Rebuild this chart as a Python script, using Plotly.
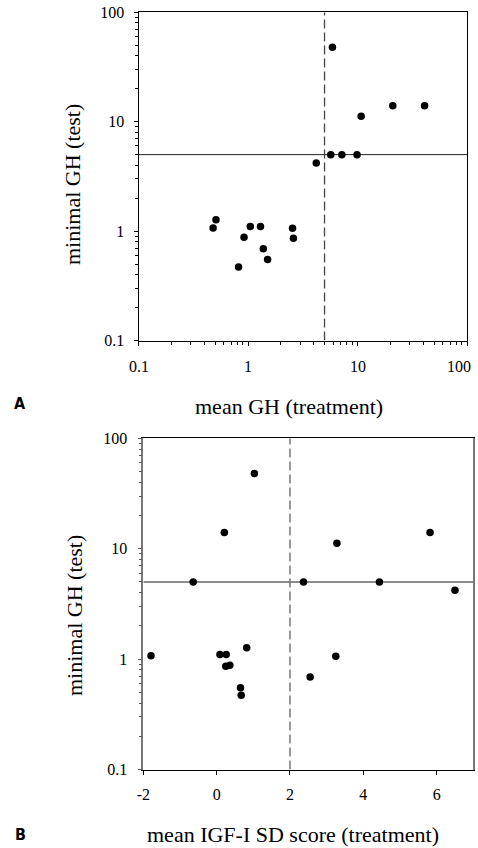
import math
import plotly.graph_objects as go

# ---- data ----
min_gh_test = [48, 14, 14, 11.2, 5, 5, 5, 4.2, 1.27, 1.1, 1.1, 1.07, 1.06, 0.88, 0.86, 0.69, 0.55, 0.47]
mean_gh_treatment = [5.9, 21, 41, 10.8, 5.7, 7.2, 9.9, 4.2, 0.51, 1.05, 1.3, 0.48, 2.55, 0.92, 2.6, 1.38, 1.51, 0.82]
mean_igf_sds = [1.03, 0.21, 5.82, 3.28, -0.64, 2.37, 4.44, 6.5, 0.82, 0.09, 0.26, -1.79, 3.25, 0.36, 0.25, 2.55, 0.65, 0.67]

gh_cutoff = 5
igf_cutoff = 2

log_tickvals = [0.1, 1, 10, 100]
log_ticktext = ["0.1", "1", "10", "100"]
igf_tickvals = [-2, 0, 2, 4, 6]
igf_ticktext = ["-2", "0", "2", "4", "6"]

W, H = 478, 848
SERIF = "Liberation Serif, Times New Roman, serif"

def px(x):
    return x / W

def py(y):
    return 1 - y / H

fig = go.Figure()

# Panel A reference lines
fig.add_trace(go.Scatter(x=[0.1, 100], y=[gh_cutoff, gh_cutoff], mode="lines",
                         line=dict(color="#222", width=1), xaxis="x", yaxis="y",
                         showlegend=False, hoverinfo="skip"))
fig.add_trace(go.Scatter(x=[gh_cutoff, gh_cutoff], y=[0.1, 100], mode="lines",
                         line=dict(color="#444", width=1.3, dash="9px,4px"), xaxis="x", yaxis="y",
                         showlegend=False, hoverinfo="skip"))
fig.add_trace(go.Scatter(x=mean_gh_treatment, y=min_gh_test, mode="markers",
                         marker=dict(color="black", size=7.5), xaxis="x", yaxis="y",
                         showlegend=False))

# Panel B reference lines
fig.add_trace(go.Scatter(x=[-2, 7], y=[gh_cutoff, gh_cutoff], mode="lines",
                         line=dict(color="#666", width=1.5), xaxis="x2", yaxis="y2",
                         showlegend=False, hoverinfo="skip"))
fig.add_trace(go.Scatter(x=[igf_cutoff, igf_cutoff], y=[0.1, 100], mode="lines",
                         line=dict(color="#777", width=1.5, dash="9px,4px"), xaxis="x2", yaxis="y2",
                         showlegend=False, hoverinfo="skip"))
fig.add_trace(go.Scatter(x=mean_igf_sds, y=min_gh_test, mode="markers",
                         marker=dict(color="black", size=7.5), xaxis="x2", yaxis="y2",
                         showlegend=False))

tickfont = dict(family=SERIF, size=16, color="black")

def minor_log(color):
    return dict(ticks="outside", ticklen=3, dtick="D1", showgrid=False, tickcolor=color)

common = dict(showgrid=False, zeroline=False, tickfont=tickfont, automargin=False,
              showline=True, mirror=True)

fig.update_layout(
    width=W, height=H,
    font=dict(family=SERIF, color="black"),
    margin=dict(l=0, r=0, t=0, b=0, autoexpand=False),
    paper_bgcolor="white", plot_bgcolor="white",
    xaxis=dict(common, type="log", range=[-1, 2], domain=[px(138.5), px(467)], anchor="y",
               tickvals=log_tickvals, showticklabels=False, ticks="outside", ticklen=4,
               tickcolor="black", minor=minor_log("black"),
               linecolor="black", linewidth=1),
    yaxis=dict(common, type="log", range=[-1, 2], domain=[py(340.5), py(12.3)], anchor="x",
               tickvals=log_tickvals, ticktext=log_ticktext, ticks="outside", ticklen=4,
               ticklabelstandoff=6,
               tickcolor="black", minor=minor_log("black"),
               linecolor="black", linewidth=1),
    xaxis2=dict(common, range=[-2, 7], domain=[px(143.3), px(473.3)], anchor="y2",
                tickvals=igf_tickvals, ticktext=igf_ticktext, ticks="outside", ticklen=4,
                ticklabelstandoff=6,
                tickcolor="black", linecolor="black", linewidth=1.2),
    yaxis2=dict(common, type="log", range=[-1, 2], domain=[py(769.5), py(438.3)], anchor="x2",
                tickvals=log_tickvals, ticktext=log_ticktext, ticks="outside", ticklen=4,
                ticklabelstandoff=7,
                tickcolor="#555", minor=minor_log("#555"),
                linecolor="#777", linewidth=1.5),
)

titlefont = dict(family=SERIF, size=22, color="black")
labelfont = dict(family="DejaVu Sans Condensed, Liberation Sans Narrow, Arial, sans-serif",
                 size=16, color="black", weight="bold")

annotations = [
    dict(text="minimal GH (test)", x=px(72), y=py(185), textangle=-90, font=titlefont),
    dict(text="mean GH (treatment)", x=px(289), y=py(406), font=titlefont),
    dict(text="A", x=px(20), y=py(404), font=labelfont),
    dict(text="minimal GH (test)", x=px(74), y=py(616), textangle=-90, font=titlefont),
    dict(text="mean IGF-I SD score (treatment)", x=px(293), y=py(834), font=titlefont),
    dict(text="B", x=px(20), y=py(834), font=labelfont),
]
for a in annotations:
    a.update(xref="paper", yref="paper", showarrow=False, xanchor="center", yanchor="middle")

# Panel A x tick labels, placed on the log axis (last one kept inside the page edge)
for i, (v, t) in enumerate(zip(log_tickvals, log_ticktext)):
    last = i == len(log_tickvals) - 1
    annotations.append(dict(text=t, x=math.log10(v), xref="x", y=py(366), yref="paper",
                            showarrow=False, xanchor="right" if last else "center",
                            xshift=6 if last else 0, yanchor="middle",
                            font=tickfont))

fig.update_layout(annotations=annotations)

fig.write_html("out.html", config={"displayModeBar": False},
               post_script="document.body.style.margin='0px';")
